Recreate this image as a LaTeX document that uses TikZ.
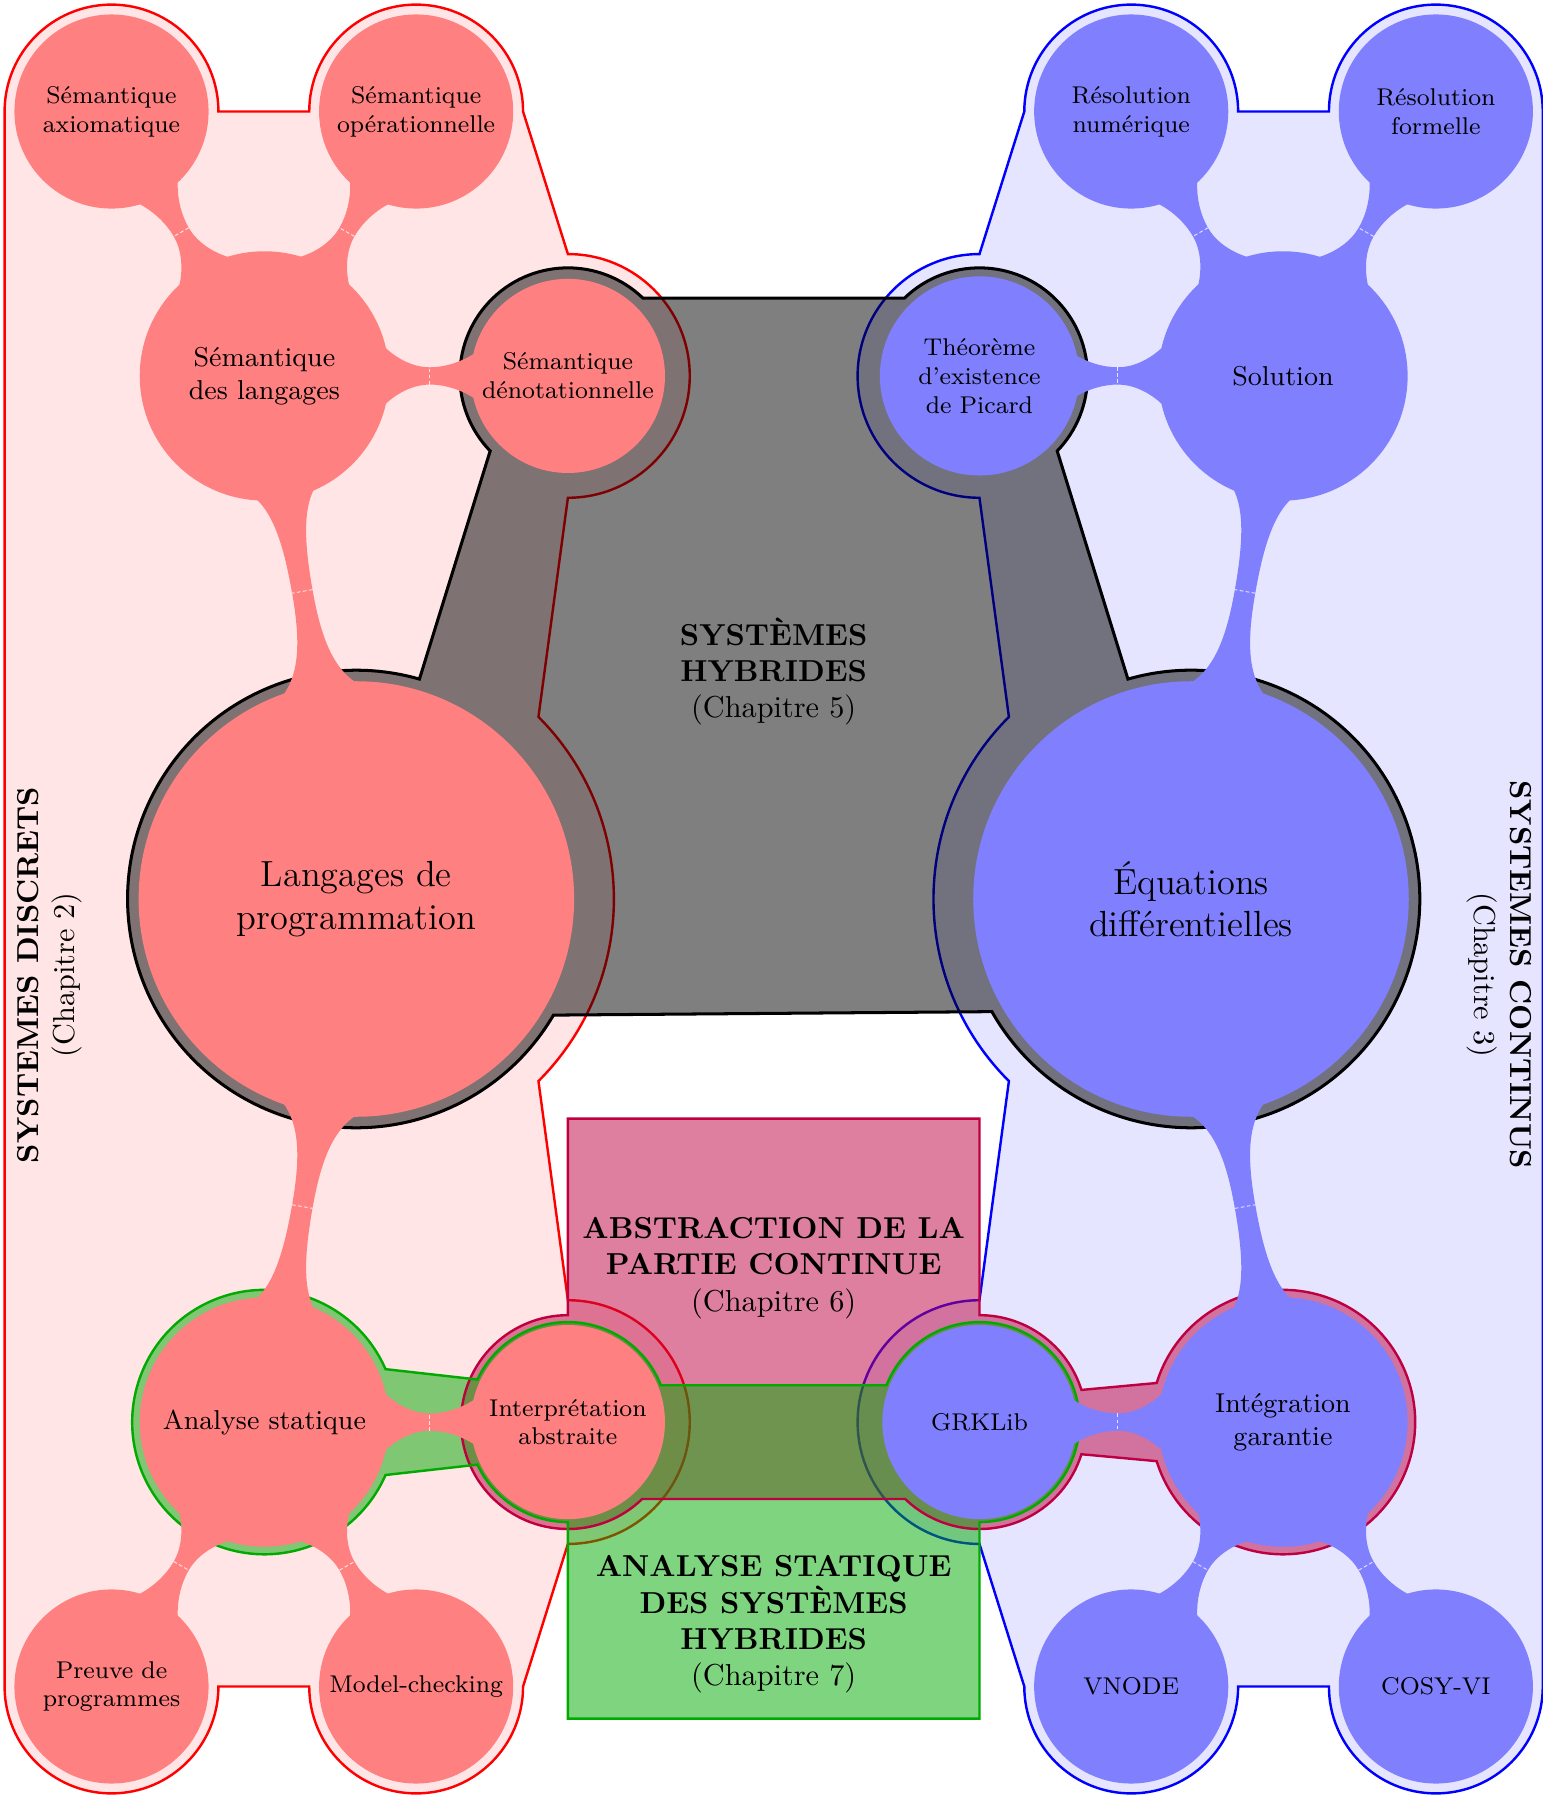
\documentclass[tikz,border=0pt]{standalone}
\usetikzlibrary{mindmap,calc}
\definecolor{pu}{rgb}{0.75,0,0.25}
\definecolor{gr}{RGB}{0,170,0}
% flare shape parameters
\def\mmp{0.33}\def\mmq{0.7}\def\mmr{0.3}
% connection bar between two concept circles
% #1 start centre, #2 direction angle, #3 centre distance, #4 r1, #5 r2,
% #6 attach half-angle at start, #7 at end, #8 half neck width, #9 colour
\newcommand{\mmbar}[9]{%
  \begin{scope}[shift={(#1)}, rotate=#2]
    \pgfmathsetmacro\mmxa{#4*cos(#6)}\pgfmathsetmacro\mmya{#4*sin(#6)}%
    \pgfmathsetmacro\mmxb{#3-#5*cos(#7)}\pgfmathsetmacro\mmyb{#5*sin(#7)}%
    \pgfmathsetmacro\mmxm{(\mmxa+\mmxb)/2}%
    \pgfmathsetmacro\mmLa{\mmxm-\mmxa}\pgfmathsetmacro\mmha{\mmya-#8}%
    \pgfmathsetmacro\mmLb{\mmxb-\mmxm}\pgfmathsetmacro\mmhb{\mmyb-#8}%
    \pgfmathsetmacro\mmax{\mmxa+\mmp*\mmLa}\pgfmathsetmacro\mmay{\mmya-\mmq*\mmha}%
    \pgfmathsetmacro\mmaz{\mmxm-\mmr*\mmLa}%
    \pgfmathsetmacro\mmbz{\mmxm+\mmr*\mmLb}%
    \pgfmathsetmacro\mmbx{\mmxb-\mmp*\mmLb}\pgfmathsetmacro\mmby{\mmyb-\mmq*\mmhb}%
    \fill[#9] (0,0) -- (\mmxa,\mmya) .. controls (\mmax,\mmay) and (\mmaz,#8) .. (\mmxm,#8)
      .. controls (\mmbz,#8) and (\mmbx,\mmby) .. (\mmxb,\mmyb) -- (#3,0)
      -- (\mmxb,-\mmyb) .. controls (\mmbx,-\mmby) and (\mmbz,-#8) .. (\mmxm,-#8)
      .. controls (\mmaz,-#8) and (\mmax,-\mmay) .. (\mmxa,-\mmya) -- cycle;
    \draw[seam] (\mmxm,-#8) -- (\mmxm,#8);
  \end{scope}}
\begin{document}
\begin{tikzpicture}[x=0.0133333cm,y=0.0133333cm]
\useasboundingbox (-673,-782) rectangle (669,782);
\tikzset{
  pinkreg/.style={draw=red, thick, fill=red!10},
  bluereg/.style={draw=blue, thick, fill=blue!10},
  hybreg/.style={draw=black, line width=1pt, fill=black, fill opacity=0.5},
  cpt/.style={concept, text=black, align=center, inner sep=0pt},
  lvroot/.style={cpt, minimum size=5.01cm, text width=4cm, font=\large},
  lvone/.style={cpt, minimum size=2.85cm, text width=2.6cm, font=\small},
  lvtwo/.style={cpt, minimum size=2.21cm, text width=2.1cm, font=\footnotesize},
  title/.style={align=center, text=black},
  seam/.style={white, line width=0.3pt, dash pattern=on 1.2pt off 0.8pt, opacity=0.8},
}
% centres
\coordinate (cA) at (-576,685);
\coordinate (cB) at (-311,685);
\coordinate (cC) at (-443,455);
\coordinate (cD) at (-179,455);
\coordinate (cL) at (-363,0);
\coordinate (cS) at (-443,-455);
\coordinate (cI) at (-179,-455);
\coordinate (cP) at (-576,-685);
\coordinate (cM) at (-311,-685);
\coordinate (cR2) at (576,685);
\coordinate (cR1) at (311,685);
\coordinate (cSol) at (443,455);
\coordinate (cT) at (179,455);
\coordinate (cE) at (363,0);
\coordinate (cG) at (443,-455);
\coordinate (cK) at (179,-455);
\coordinate (cC2) at (576,-685);
\coordinate (cV) at (311,-685);

% discrete systems region
\path[pinkreg] ($(cA)+(180:93)$) arc[start angle=180,end angle=0,radius=93]
  -- ($(cB)+(180:93)$) arc[start angle=180,end angle=0,radius=93]
  -- ($(cD)+(90:106)$) arc[start angle=90,end angle=-90,radius=106]
  -- ($(cL)+(45:224)$) arc[start angle=45,end angle=-45,radius=224]
  -- ($(cI)+(90:106)$) arc[start angle=90,end angle=-90,radius=106]
  -- ($(cM)+(0:93)$) arc[start angle=0,end angle=-180,radius=93]
  -- ($(cP)+(0:93)$) arc[start angle=0,end angle=-180,radius=93]
  -- cycle;
% continuous systems region
\path[bluereg] ($(cR2)+(0:93)$) arc[start angle=0,end angle=180,radius=93]
  -- ($(cR1)+(0:93)$) arc[start angle=0,end angle=180,radius=93]
  -- ($(cT)+(90:106)$) arc[start angle=90,end angle=270,radius=106]
  -- ($(cE)+(135:224)$) arc[start angle=135,end angle=225,radius=224]
  -- ($(cK)+(90:106)$) arc[start angle=90,end angle=270,radius=106]
  -- ($(cV)+(180:93)$) arc[start angle=180,end angle=360,radius=93]
  -- ($(cC2)+(180:93)$) arc[start angle=180,end angle=360,radius=93]
  -- cycle;
% hybrid systems region
\path[hybreg] ($(cL)+(74:199)$) -- ($(cD)+(224:94)$) arc[start angle=224,end angle=46,radius=94]
  -- ($(cT)+(134:94)$) arc[start angle=134,end angle=-44,radius=94]
  -- ($(cE)+(106:199)$) arc[start angle=106,end angle=-150.5,radius=199]
  -- ($(cL)+(-30.5:199)$) arc[start angle=-30.5,end angle=-286,radius=199]
  -- cycle;
% chapter 6 and 7 regions
\def\purplepath{(-179,-191) -- (179,-191) -- ($(cK)+(90:93)$) arc[start angle=90,end angle=17.5,radius=93]
  -- ($(cG)+(162.8:115)$) arc[start angle=162.8,end angle=-162.8,radius=115]
  -- ($(cK)+(-17.5:93)$) arc[start angle=-17.5,end angle=-134,radius=93]
  -- ($(cI)+(-46:93)$) arc[start angle=-46,end angle=-270,radius=93]
  -- cycle}
\def\greenpath{(-179,-713) -- (179,-713) -- ($(cK)+(-90:87)$) arc[start angle=-90,end angle=158.4,radius=87]
  -- ($(cI)+(21.6:87)$) arc[start angle=21.6,end angle=154.8,radius=87]
  -- ($(cS)+(23.6:115)$) arc[start angle=23.6,end angle=336.4,radius=115]
  -- ($(cI)+(205.2:87)$) arc[start angle=205.2,end angle=270,radius=87]
  -- cycle}
\fill[pu, fill opacity=0.5] \purplepath;
\fill[gr, fill opacity=0.5] \greenpath;
\draw[pu, thick] \purplepath;
\draw[gr, thick] \greenpath;

% connection bars: root to level 1
\def\mmp{0.2}\def\mmq{0.8}\def\mmr{0.45}
\mmbar{cL}{99.97}{462}{188}{107}{10}{14}{9}{red!50}
\mmbar{cL}{-99.97}{462}{188}{107}{10}{14}{9}{red!50}
\mmbar{cE}{80.03}{462}{188}{107}{10}{14}{9}{blue!50}
\mmbar{cE}{-80.03}{462}{188}{107}{10}{14}{9}{blue!50}
% connection bars: level 1 to leaves
\def\mmp{0.33}\def\mmq{0.7}\def\mmr{0.3}
\mmbar{cC}{120.04}{265.7}{107}{83}{14}{14}{7.5}{red!50}
\mmbar{cC}{60.15}{265.2}{107}{83}{14}{14}{7.5}{red!50}
\mmbar{cC}{0}{264}{107}{83}{14}{14}{7.5}{red!50}
\mmbar{cS}{0}{264}{107}{83}{14}{14}{7.5}{red!50}
\mmbar{cS}{-120.04}{265.7}{107}{83}{14}{14}{7.5}{red!50}
\mmbar{cS}{-60.15}{265.2}{107}{83}{14}{14}{7.5}{red!50}
\mmbar{cSol}{59.96}{265.7}{107}{83}{14}{14}{7.5}{blue!50}
\mmbar{cSol}{119.85}{265.2}{107}{83}{14}{14}{7.5}{blue!50}
\mmbar{cSol}{180}{264}{107}{83}{14}{14}{7.5}{blue!50}
\mmbar{cG}{180}{264}{107}{83}{14}{14}{7.5}{blue!50}
\mmbar{cG}{-59.96}{265.7}{107}{83}{14}{14}{7.5}{blue!50}
\mmbar{cG}{-119.85}{265.2}{107}{83}{14}{14}{7.5}{blue!50}

% mind maps
\begin{scope}[mindmap, concept color=red!50]
\node[lvroot] (L) at (cL) {Langages de\\programmation};
\node[lvone] (C) at (cC) {Sémantique\\des langages};
\node[lvone] (S) at (cS) {Analyse statique};
\node[lvtwo] (A) at (cA) {Sémantique\\axiomatique};
\node[lvtwo] (B) at (cB) {Sémantique\\opérationnelle};
\node[lvtwo] (D) at (cD) {Sémantique\\dénotationnelle};
\node[lvtwo] (I) at (cI) {Interprétation\\abstraite};
\node[lvtwo] (P) at (cP) {Preuve de\\programmes};
\node[lvtwo] (M) at (cM) {\mbox{Model-checking}};
\end{scope}
\begin{scope}[mindmap, concept color=blue!50]
\node[lvroot] (E) at (cE) {Équations\\différentielles};
\node[lvone] (Sol) at (cSol) {Solution};
\node[lvone] (G) at (cG) {Intégration\\garantie};
\node[lvtwo] (R1) at (cR1) {Résolution\\numérique};
\node[lvtwo] (R2) at (cR2) {Résolution\\formelle};
\node[lvtwo] (T) at (cT) {Théorème\\d'existence\\de Picard};
\node[lvtwo] (K) at (cK) {GRKLib};
\node[lvtwo] (V) at (cV) {VNODE};
\node[lvtwo] (C2) at (cC2) {COSY-VI};
\end{scope}

% titles
\node[title] (hyb) at (0,198) {\textbf{SYSTÈMES}\\\textbf{HYBRIDES}\\(Chapitre 5)};
\node[title] (abs) at (0,-321) {\textbf{ABSTRACTION DE LA}\\\textbf{PARTIE CONTINUE}\\(Chapitre 6)};
\node[title] (ash) at (0,-631) {\textbf{ANALYSE STATIQUE}\\\textbf{DES SYSTÈMES}\\\textbf{HYBRIDES}\\(Chapitre 7)};
\node[title, rotate=90] (disc) at (-630,-66) {\textbf{SYSTEMES DISCRETS}\\(Chapitre 2)};
\node[title, rotate=-90] (cont) at (631,-66) {\textbf{SYSTEMES CONTINUS}\\(Chapitre 3)};
\end{tikzpicture}
\end{document}
